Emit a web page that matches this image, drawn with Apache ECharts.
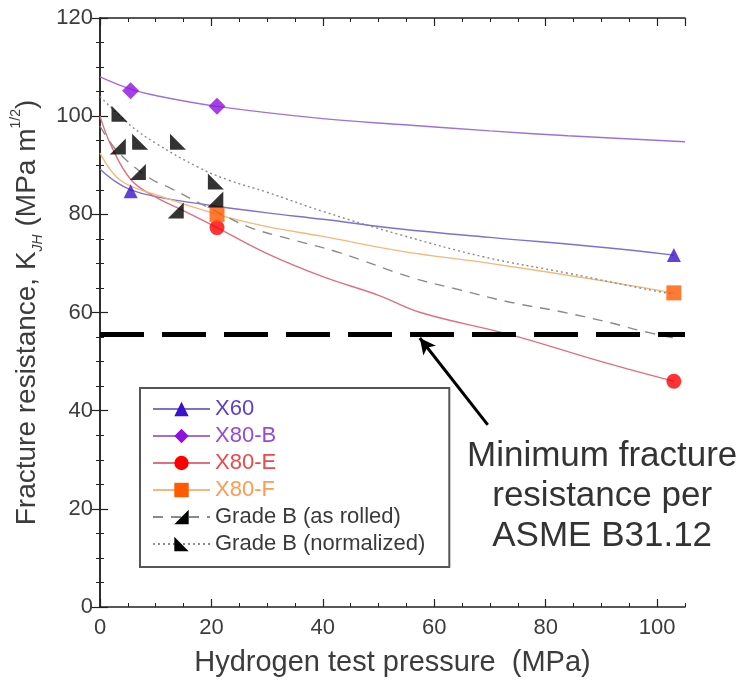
<!DOCTYPE html>
<html>
<head>
<meta charset="utf-8">
<script src="https://cdn.jsdelivr.net/npm/echarts@6/dist/echarts.min.js"></script>
<style>
html,body{margin:0;padding:0;background:#fff;}
#c{width:744px;height:683px;}
</style>
</head>
<body>
<div id="c"></div>
<script>
// ---- data ----
const seriesNames = ['X60', 'X80-B', 'X80-E', 'X80-F', 'Grade B (as rolled)', 'Grade B (normalized)'];
const xTickLabels = [0, 20, 40, 60, 80, 100];
const yTickLabels = [0, 20, 40, 60, 80, 100, 120];

// measured points [pressure MPa, K_JH]
const x60Pts = [[5.5, 84.7], [103, 71.7]];
const x80bPts = [[5.5, 105.2], [21, 102]];
const x80ePts = [[21, 77.3], [103, 46]];
const x80fPts = [[21, 80], [103, 64]];
const gbRolledPts = [[3.2, 93.8], [6.8, 88.6], [13.6, 80.8], [20.7, 83]];
const gbNormPts = [[3.5, 100.5], [7.2, 94.8], [14, 94.8], [20.8, 86.7]];

// fitted curves
const x60Curve = [[0, 89.2], [3, 86.5], [5.5, 85], [10, 83.6], [20, 81.8], [30, 80.3], [40, 79], [54, 77], [70, 75.3], [90, 73.3], [103, 71.7]];
const x80bCurve = [[0, 108], [5.5, 105.5], [10, 104.2], [21, 102], [40, 99.5], [54, 98.3], [70, 97], [84, 96], [105, 94.8]];
const x80eCurve = [[0, 100], [2, 94], [5.6, 87], [10, 83.5], [14.5, 81], [21, 77.3], [30, 72], [40, 67.3], [50, 63.5], [57.5, 60], [73.6, 55.5], [90, 50], [103, 46]];
const x80fCurve = [[0, 92.5], [3.6, 87], [10, 84], [21, 80], [30, 77.5], [40, 75.5], [54, 72.5], [70, 70], [90, 66.5], [103, 64]];
const gbRolledCurve = [[0, 98], [3, 93], [8.6, 87.6], [12.7, 85.3], [21, 80.5], [27, 77.3], [34, 75], [43, 72.2], [55.7, 67.2], [64.6, 64.6], [73.6, 62.1], [83, 60.1], [92, 57.8], [97, 56.3], [103, 54.8]];
const gbNormCurve = [[0, 104], [5.6, 98], [10, 94.5], [17.6, 89.6], [23, 87], [30, 84.5], [40, 80.6], [54, 75.8], [69, 71.3], [84, 68], [100, 64.3], [103, 63.8]];

const minimumK = 55.5;
const arrowFrom = [69.6, 37.1];
const arrowTo = [57.4, 54.8];
const noteLines = ['Minimum fracture', 'resistance per', 'ASME B31.12'];

// ---- styling ----
const FONT = 'Liberation Sans, Arial, Helvetica, sans-serif';
const TXT = '#3c3c3c';
const rolledSym = 'path://M0,10 L10,10 L10,0 Z';
const normSym = 'path://M0,0 L0,10 L10,10 Z';
const looks = [
  {marker: '#3a12cc', line: '#7f70d0', text: '#5a3fd0', sym: 'triangle', size: 14, type: 'solid'},
  {marker: '#8f10e0', line: '#a070d8', text: '#9a48d8', sym: 'diamond', size: 17, type: 'solid'},
  {marker: '#ff0000', line: '#e07080', text: '#ee4848', sym: 'circle', size: 15, type: 'solid'},
  {marker: '#ff5a00', line: '#f4b87a', text: '#ff9a50', sym: 'rect', size: 15, type: 'solid'},
  {marker: '#000000', line: '#8a8a8a', text: '#3a3a3a', sym: rolledSym, size: 16, type: [10, 8]},
  {marker: '#000000', line: '#8a8a8a', text: '#3a3a3a', sym: normSym, size: 16, type: [2, 3]}
];
const curves = [x60Curve, x80bCurve, x80eCurve, x80fCurve, gbRolledCurve, gbNormCurve];
const points = [x60Pts, x80bPts, x80ePts, x80fPts, gbRolledPts, gbNormPts];

const series = [];
seriesNames.forEach((name, i) => {
  const lk = looks[i];
  series.push({
    name: name, type: 'line', data: curves[i], smooth: 0.4,
    showSymbol: false, symbol: lk.sym, symbolSize: lk.size,
    itemStyle: {color: lk.marker},
    lineStyle: {color: lk.line, width: 1.4, type: lk.type},
    silent: true, z: 3
  });
});
seriesNames.forEach((name, i) => {
  const lk = looks[i];
  series.push({
    name: name, type: 'scatter', data: points[i],
    symbol: lk.sym, symbolSize: lk.size,
    itemStyle: {color: lk.marker}, silent: true, z: 5
  });
});
// reference line + arrow annotation
series.push({
  name: 'ref', type: 'line', data: [], silent: true,
  markLine: {
    silent: true, animation: false,
    label: {show: false},
    data: [
      {yAxis: minimumK, symbol: 'none', lineStyle: {color: '#000', width: 5, type: [44, 18]}},
      [{coord: arrowFrom, symbol: 'none'}, {coord: arrowTo, symbol: 'arrow', symbolSize: [12, 16], lineStyle: {color: '#000', width: 3, type: 'solid'}}]
    ],
    symbol: ['none', 'none'],
    lineStyle: {color: '#000', width: 3, type: 'solid'}
  },
  z: 4
});

const axisLineStyle = {lineStyle: {color: '#222', width: 1.5}};
const base = {min: 0, splitLine: {show: false}, axisLine: axisLineStyle};

const option = {
  animation: false,
  backgroundColor: '#fff',
  textStyle: {fontFamily: FONT},
  grid: {left: 100, top: 18, width: 585, height: 589, containLabel: false},
  xAxis: [
    Object.assign({}, base, {
      type: 'value', position: 'bottom', max: 105, interval: 20,
      axisTick: {inside: true, length: 8, lineStyle: {color: '#222', width: 1.2}},
      axisLabel: {fontSize: 22, color: TXT, margin: 10, showMaxLabel: false,
        formatter: v => (xTickLabels.indexOf(v) >= 0 ? String(v) : '')},
      name: 'Hydrogen test pressure  (MPa)', nameLocation: 'middle', nameGap: 41,
      nameTextStyle: {fontSize: 29, color: TXT, fontFamily: FONT}
    }),
    Object.assign({}, base, {
      type: 'value', position: 'bottom', max: 105, interval: 5,
      axisLine: {show: false},
      axisTick: {inside: true, length: 4, lineStyle: {color: '#222', width: 1}},
      axisLabel: {show: false}
    }),
    Object.assign({}, base, {
      type: 'value', position: 'top', max: 105, interval: 20,
      axisTick: {inside: true, length: 8, lineStyle: {color: '#222', width: 1.2}},
      axisLabel: {show: false}
    }),
    Object.assign({}, base, {
      type: 'value', position: 'top', max: 105, interval: 5,
      axisLine: {show: false},
      axisTick: {inside: true, length: 4, lineStyle: {color: '#222', width: 1}},
      axisLabel: {show: false}
    })
  ],
  yAxis: [
    Object.assign({}, base, {
      type: 'value', position: 'left', max: 120, interval: 20,
      axisTick: {inside: true, length: 8, lineStyle: {color: '#222', width: 1.2}},
      minorTick: {show: true, splitNumber: 4, length: 4, lineStyle: {color: '#222', width: 1}},
      axisLabel: {fontSize: 22, color: TXT, margin: 7,
        formatter: v => (yTickLabels.indexOf(v) >= 0 ? String(v) : '')},
      name: '{t|Fracture resistance, K}{sub|JH}{t| (MPa m}{sup|1/2}{t|)}',
      nameLocation: 'middle', nameGap: 42, nameRotate: 90,
      nameTextStyle: {
        color: TXT, fontSize: 28, fontFamily: FONT,
        rich: {
          t: {fontSize: 28, color: TXT, lineHeight: 36, fontFamily: FONT},
          sub: {fontSize: 14, color: TXT, fontStyle: 'italic', lineHeight: 14, verticalAlign: 'bottom', fontFamily: FONT},
          sup: {fontSize: 14, color: TXT, lineHeight: 14, verticalAlign: 'top', fontFamily: FONT}
        }
      }
    }),
    Object.assign({}, base, {
      type: 'value', position: 'right', max: 120, interval: 20,
      axisTick: {inside: true, length: 8, lineStyle: {color: '#222', width: 1.2}},
      minorTick: {show: true, splitNumber: 4, length: 4, lineStyle: {color: '#222', width: 1}},
      axisLabel: {show: false}
    })
  ],
  legend: {
    orient: 'vertical', left: 140, top: 388,
    padding: [10, 24, 12, 12], itemGap: 5, itemWidth: 57, itemHeight: 18,
    borderColor: '#555', borderWidth: 2, backgroundColor: '#fff',
    textStyle: {fontSize: 22, lineHeight: 22, fontFamily: FONT},
    selectedMode: false,
    data: seriesNames.map((n, i) => ({name: n, textStyle: {color: looks[i].text, fontSize: 22, fontFamily: FONT}}))
  },
  graphic: [{
    type: 'text', left: 607 - 140, top: 436, z: 10,
    style: {
      text: noteLines.join('\n'), x: 0, y: 0,
      font: '35px ' + FONT, fill: '#333', textAlign: 'center', lineHeight: 40
    }
  }],
  series: series
};

const chart = echarts.init(document.getElementById('c'), null, {renderer: 'canvas'});
chart.setOption(option);
</script>
</body>
</html>
